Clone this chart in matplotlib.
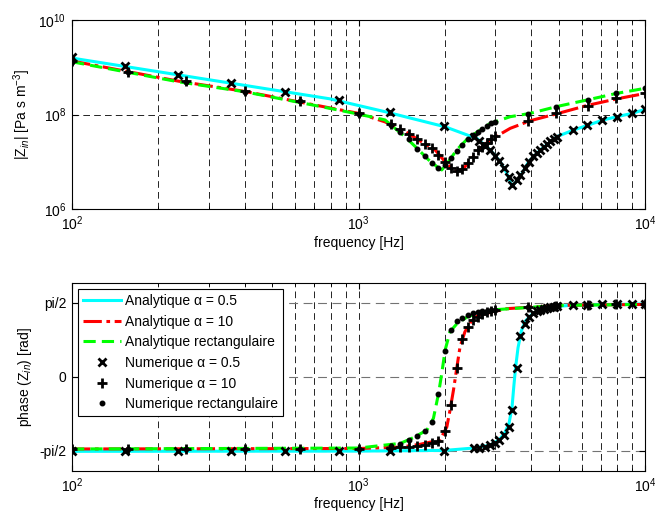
import numpy as np
import matplotlib
matplotlib.use("Agg")
import matplotlib.pyplot as plt
from matplotlib.ticker import LogLocator, NullFormatter, FixedLocator, FixedFormatter

plt.rcParams['font.family'] = ['Liberation Sans', 'DejaVu Sans']
plt.rcParams['mathtext.fontset'] = 'custom'
plt.rcParams['mathtext.rm'] = 'Liberation Sans'
plt.rcParams['mathtext.it'] = 'Liberation Sans:italic'
plt.rcParams['font.size'] = 10

# ---- analytic curves ----
# alpha = 0.5 (cyan)
f_a05 = [100, 795, 1236, 2004, 2483, 2590, 2880, 3120, 3290, 3430, 3660, 3920,
         4300, 4920, 5620, 6340, 7140, 7960, 9000, 10000]
z_a05 = [1.57e9, 2.15e8, 1.15e8, 5.5e7, 3.4e7, 3.1e7, 1.77e7, 1.0e7, 5.7e6, 3.0e6,
         4.8e6, 1.0e7, 1.77e7, 3.4e7, 4.7e7, 6.0e7, 7.7e7, 9.0e7, 1.06e8, 1.29e8]
fp_a05 = [100, 1000, 2000, 2520, 2880, 3100, 3240, 3350, 3430, 3480, 3530, 3600,
          3700, 3810, 4070, 4790, 5470, 10000]
ph_a05 = [-1.58, -1.575, -1.56, -1.51, -1.45, -1.33, -1.18, -0.98, -0.65, -0.2,
          0.2, 0.62, 0.98, 1.18, 1.36, 1.49, 1.52, 1.55]

# alpha = 10 (red)
f_a10 = [100, 235, 400, 795, 1000, 1236, 1452, 1618, 1849, 2004, 2113, 2203,
         2323, 2483, 2655, 2880, 3380, 3970, 4920, 6250, 7960, 10000]
z_a10 = [1.36e9, 5.1e8, 3.1e8, 1.38e8, 1.06e8, 7.0e7, 4.4e7, 2.9e7, 1.78e7, 1.0e7,
         7.2e6, 6.2e6, 7.2e6, 1.17e7, 1.9e7, 2.9e7, 5.1e7, 7.4e7, 1.04e8, 1.55e8,
         2.15e8, 2.8e8]
fp_a10 = [100, 1000, 1400, 1640, 1923, 2032, 2084, 2143, 2203, 2259, 2350, 2483,
          2618, 3290, 5000, 10000]
ph_a10 = [-1.53, -1.52, -1.49, -1.43, -1.34, -1.06, -0.71, -0.28, 0.21, 0.64,
          0.96, 1.20, 1.31, 1.45, 1.52, 1.54]

# rectangular (green)
f_rect = [100, 235, 400, 795, 1000, 1236, 1452, 1618, 1754, 1875, 1950, 2056,
          2203, 2415, 2618, 2880, 3380, 3970, 4920, 6250, 7960, 10000]
z_rect = [1.31e9, 4.94e8, 3.04e8, 1.35e8, 1.02e8, 7.7e7, 3.4e7, 1.8e7, 1.1e7,
          7.9e6, 6.7e6, 1.0e7, 1.8e7, 3.2e7, 4.4e7, 6.5e7, 9.0e7, 1.06e8, 1.48e8,
          2.03e8, 2.81e8, 3.6e8]
fp_rect = [100, 1000, 1400, 1552, 1730, 1824, 1901, 1950, 2004, 2084, 2203, 2388,
           2588, 3035, 5000, 10000]
ph_rect = [-1.53, -1.51, -1.41, -1.29, -1.13, -0.88, -0.35, 0.07, 0.57, 0.96,
           1.13, 1.27, 1.35, 1.43, 1.52, 1.54]

# ---- numerical points ----
fn_a05 = [100, 153, 235, 358, 553, 851, 1290, 1985, 2520, 2640, 2760, 2880, 3000,
          3100, 3210, 3335, 3430, 3565, 3665, 3810, 3940, 4060, 4180, 4300, 4420,
          4540, 4660, 4790, 4920, 5620, 6250, 7060, 7960, 9000, 10000]
zn_a05 = [1.62e9, 1.07e9, 6.9e8, 4.6e8, 3.0e8, 2.03e8, 1.15e8, 5.7e7, 3.3e7,
          2.8e7, 2.2e7, 1.77e7, 1.35e7, 1.05e7, 7.4e6, 4.8e6, 3.2e6, 4.2e6, 5.2e6,
          7.5e6, 1.0e7, 1.3e7, 1.55e7, 1.77e7, 2.05e7, 2.35e7, 2.7e7, 3.05e7,
          3.4e7, 4.7e7, 5.9e7, 7.5e7, 9.0e7, 1.06e8, 1.29e8]
pn_a05 = [-1.57, -1.57, -1.57, -1.57, -1.57, -1.57, -1.57, -1.57, -1.51, -1.50,
          -1.48, -1.45, -1.40, -1.33, -1.24, -1.06, -0.71, 0.18, 0.88, 1.13, 1.28,
          1.35, 1.40, 1.43, 1.45, 1.47, 1.48, 1.49, 1.50, 1.52, 1.53, 1.54, 1.54,
          1.55, 1.55]

fn_a10 = [100, 157, 250, 400, 625, 1000, 1300, 1400, 1500, 1600, 1700, 1800, 1900,
          2000, 2100, 2200, 2300, 2400, 2500, 2600, 2700, 2800, 2900, 3000, 3900,
          4900, 6300, 7900, 10000]
zn_a10 = [1.36e9, 8.1e8, 5.1e8, 3.2e8, 1.96e8, 1.06e8, 6.3e7, 4.9e7, 3.9e7, 3.0e7,
          2.35e7, 1.95e7, 1.4e7, 1.0e7, 7.5e6, 6.3e6, 7.0e6, 9.5e6, 1.25e7, 1.75e7,
          2.1e7, 2.5e7, 3.0e7, 3.5e7, 7.2e7, 1.08e8, 1.55e8, 2.2e8, 2.8e8]
pn_a10 = [-1.52, -1.52, -1.52, -1.52, -1.52, -1.52, -1.50, -1.49, -1.48, -1.46,
          -1.44, -1.41, -1.36, -1.15, -0.6, 0.18, 0.80, 1.05, 1.2, 1.28, 1.33, 1.37,
          1.40, 1.42, 1.49, 1.51, 1.53, 1.54, 1.54]

fn_rect = fn_a10
zn_rect = [1.31e9, 8.0e8, 4.9e8, 3.05e8, 1.95e8, 1.02e8, 6.0e7, 4.2e7, 3.0e7,
           1.9e7, 1.35e7, 9.5e6, 7.3e6, 8.5e6, 1.2e7, 1.7e7, 2.3e7, 3.1e7, 3.7e7,
           4.3e7, 5.0e7, 5.8e7, 6.5e7, 7.1e7, 1.05e8, 1.48e8, 2.05e8, 2.8e8, 3.6e8]
pn_rect = [-1.52, -1.52, -1.52, -1.52, -1.52, -1.52, -1.47, -1.43, -1.33, -1.25,
           -1.15, -0.95, -0.36, 0.55, 1.0, 1.18, 1.26, 1.31, 1.35, 1.37, 1.39, 1.41,
           1.42, 1.43, 1.49, 1.52, 1.53, 1.54, 1.54]

phase_ticks = [-np.pi / 2, 0, np.pi / 2]
phase_labels = ['-pi/2', '0', 'pi/2']

fig = plt.figure(figsize=(6.55, 5.16), dpi=100)
ax1 = fig.add_axes([0.110, 0.595, 0.875, 0.366])
ax2 = fig.add_axes([0.110, 0.087, 0.875, 0.365])

lw = 2.2
green_dash = (0, (4, 2))
red_dashdot = (0, (6, 1.5, 1.2, 1.5))
mk = dict(color='k', linestyle='none')

# top: magnitude
ax1.loglog(f_a05, z_a05, color='#00FFFF', lw=lw)
ax1.loglog(f_a10, z_a10, color='#FF0000', lw=lw, linestyle=red_dashdot)
ax1.loglog(f_rect, z_rect, color='#00FF00', lw=lw, linestyle=green_dash)
ax1.loglog(fn_a05, zn_a05, marker='x', ms=5.5, mew=2, **mk)
ax1.loglog(fn_a10, zn_a10, marker='+', ms=6.5, mew=2, **mk)
ax1.loglog(fn_rect, zn_rect, marker='.', ms=6.5, **mk)
ax1.set_xlim(100, 1e4)
ax1.set_ylim(1e6, 1e10)
ax1.yaxis.set_major_locator(FixedLocator([1e6, 1e8, 1e10]))
ax1.yaxis.set_minor_locator(FixedLocator([]))
ax1.set_xlabel('frequency [Hz]', labelpad=2)
ax1.set_ylabel('|Z$_{in}$| [Pa s m$^{-3}$]')

# bottom: phase
ax2.semilogx(fp_a05, ph_a05, color='#00FFFF', lw=lw, label='Analytique α = 0.5')
ax2.semilogx(fp_a10, ph_a10, color='#FF0000', lw=lw, linestyle=red_dashdot,
             label='Analytique α = 10')
ax2.semilogx(fp_rect, ph_rect, color='#00FF00', lw=lw, linestyle=green_dash,
             label='Analytique rectangulaire')
ax2.semilogx(fn_a05, pn_a05, marker='x', ms=5.5, mew=2, label='Numerique α = 0.5', **mk)
ax2.semilogx(fn_a10, pn_a10, marker='+', ms=6.5, mew=2, label='Numerique α = 10', **mk)
ax2.semilogx(fn_rect, pn_rect, marker='.', ms=6.5, label='Numerique rectangulaire', **mk)
ax2.set_xlim(100, 1e4)
ax2.set_ylim(-2, 2)
ax2.yaxis.set_major_locator(FixedLocator(phase_ticks))
ax2.yaxis.set_major_formatter(FixedFormatter(phase_labels))
ax2.set_xlabel('frequency [Hz]', labelpad=1)
ax2.set_ylabel('phase (Z$_{in}$) [rad]')

grid_ls = (0, (8, 5))
for ax in (ax1, ax2):
    ax.xaxis.set_major_locator(LogLocator(base=10, numticks=5))
    ax.xaxis.set_minor_locator(LogLocator(base=10, subs=np.arange(2, 10), numticks=20))
    ax.xaxis.set_minor_formatter(NullFormatter())
    ax.tick_params(which='both', direction='in', top=True, right=True, labelsize=10)
    ax.tick_params(which='major', length=4, pad=4)
    ax.tick_params(which='minor', length=2)
    ax.grid(True, which='both', axis='x', color='k', lw=0.6, linestyle=grid_ls)
    for s in ax.spines.values():
        s.set_linewidth(0.8)
ax1.grid(True, which='major', axis='y', color='k', lw=0.6, linestyle=grid_ls)
ax2.grid(True, which='major', axis='y', color='0.45', lw=0.8, linestyle=grid_ls)

leg = ax2.legend(loc='upper left', fontsize=10, frameon=True, fancybox=False,
                 edgecolor='k', framealpha=1, handlelength=2.7, borderaxespad=0.45,
                 labelspacing=0.48, handletextpad=0.3, borderpad=0.35)
leg.get_frame().set_linewidth(0.8)

fig.savefig('out.png', dpi=100)
